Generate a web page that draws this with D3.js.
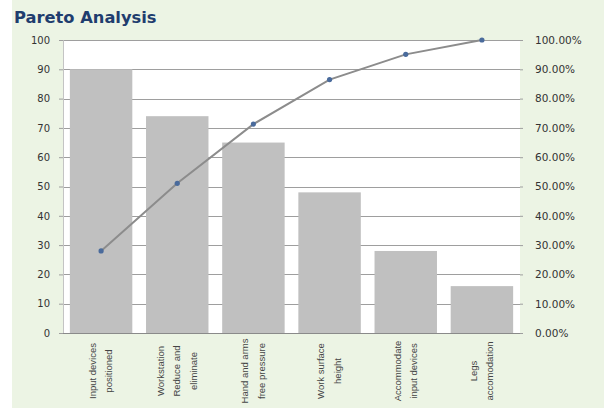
<!DOCTYPE html>
<html>
<head>
<meta charset="utf-8">
<script src="https://cdn.jsdelivr.net/npm/d3@7"></script>
<style>
  html, body { margin: 0; padding: 0; background: #ffffff; }
  svg { display: block; }
</style>
</head>
<body>
<svg id="chart" width="604" height="408"></svg>
<script>
// ---- data ----
const title = "Pareto Analysis";
const categories = [
  ["Input devices", "positioned"],
  ["Workstation", "Reduce and", "eliminate"],
  ["Hand and arms", "free pressure"],
  ["Work surface", "height"],
  ["Accommodate", "input devices"],
  ["Legs", "accomodation"]
];
const counts = [90, 74, 65, 48, 28, 16];
const cumulativePct = [0.28, 0.511, 0.713, 0.865, 0.951, 1.0];
const leftTicks = [0, 10, 20, 30, 40, 50, 60, 70, 80, 90, 100];
const rightTicks = [0, 0.1, 0.2, 0.3, 0.4, 0.5, 0.6, 0.7, 0.8, 0.9, 1.0];

// ---- layout ----
const W = 604, H = 408;
const plot = { left: 63, right: 520, top: 40, bottom: 333 };
const svg = d3.select("#chart");

// background
svg.append("rect").attr("x", 0).attr("y", 0).attr("width", W).attr("height", H).attr("fill", "#ffffff");
svg.append("rect").attr("x", 12).attr("y", 0).attr("width", W - 12).attr("height", H).attr("fill", "#ecf4e4");
svg.append("rect").attr("x", plot.left).attr("y", plot.top)
  .attr("width", plot.right - plot.left).attr("height", plot.bottom - plot.top).attr("fill", "#ffffff");

// title
svg.append("text").attr("x", 14).attr("y", 23)
  .attr("font-family", "DejaVu Sans, sans-serif").attr("font-weight", "bold")
  .attr("font-size", 16.3).attr("fill", "#1f3d6e").text(title);

const keys = categories.map((c, i) => "c" + i);
const x = d3.scaleBand().domain(keys).range([plot.left, plot.right])
  .paddingInner(0.18).paddingOuter(0.09);
const y = d3.scaleLinear().domain([0, 100]).range([plot.bottom, plot.top]);
const yR = d3.scaleLinear().domain([0, 1]).range([plot.bottom, plot.top]);

// gridlines
svg.append("g").selectAll("line").data(leftTicks.filter(d => d > 0)).join("line")
  .attr("x1", plot.left).attr("x2", plot.right)
  .attr("y1", d => Math.round(y(d)) + 0.5).attr("y2", d => Math.round(y(d)) + 0.5)
  .attr("stroke", "#9e9e9e").attr("stroke-width", 1.2);

// bars
svg.append("g").selectAll("rect").data(counts).join("rect")
  .attr("x", (d, i) => x(keys[i]))
  .attr("width", x.bandwidth())
  .attr("y", d => y(d))
  .attr("height", d => y(0) - y(d))
  .attr("fill", "#c0c0c0");

// left axis
const leftAxis = d3.axisLeft(y).tickValues(leftTicks).tickSize(4).tickPadding(9).tickFormat(d3.format("d"));
const gL = svg.append("g").attr("transform", `translate(${plot.left},0)`).call(leftAxis);
gL.select(".domain").attr("stroke", "#c4c4c4");
gL.selectAll(".tick line").attr("stroke", "#9e9e9e");
gL.selectAll("text").attr("font-family", "DejaVu Sans, sans-serif").attr("font-size", 10).attr("fill", "#333");

// right axis
const rightAxis = d3.axisRight(yR).tickValues(rightTicks).tickSize(3).tickPadding(12).tickFormat(d3.format(".2%"));
const gR = svg.append("g").attr("transform", `translate(${plot.right},0)`).call(rightAxis);
gR.select(".domain").attr("stroke", "none");
gR.selectAll(".tick line").attr("stroke", "#9e9e9e");
gR.selectAll("text").attr("font-family", "DejaVu Sans, sans-serif").attr("font-size", 10.5).attr("fill", "#333");

// bottom axis line
svg.append("line").attr("x1", plot.left).attr("x2", plot.right)
  .attr("y1", plot.bottom + 0.5).attr("y2", plot.bottom + 0.5)
  .attr("stroke", "#8a8a8a").attr("stroke-width", 1.2);

// category labels (rotated)
const lineGap = 16.5;
const labelCenterY = 371;
categories.forEach((lines, i) => {
  const cx = x(keys[i]) + x.bandwidth() / 2;
  const n = lines.length;
  lines.forEach((t, j) => {
    const lx = cx + (j - (n - 1) / 2) * lineGap + 3;
    svg.append("text")
      .attr("transform", `translate(${lx},${labelCenterY}) rotate(-90)`)
      .attr("text-anchor", "middle")
      .attr("font-family", "Liberation Sans, Arial, sans-serif")
      .attr("font-size", 9.5).attr("fill", "#444")
      .text(t);
  });
});

// cumulative line
const line = d3.line()
  .x((d, i) => x(keys[i]) + x.bandwidth() / 2)
  .y(d => yR(d));
svg.append("path").datum(cumulativePct).attr("d", line)
  .attr("fill", "none").attr("stroke", "#8c8c8c").attr("stroke-width", 2);
svg.append("g").selectAll("circle").data(cumulativePct).join("circle")
  .attr("cx", (d, i) => x(keys[i]) + x.bandwidth() / 2)
  .attr("cy", d => yR(d))
  .attr("r", 2.6).attr("fill", "#4a6b9c");
</script>
</body>
</html>
